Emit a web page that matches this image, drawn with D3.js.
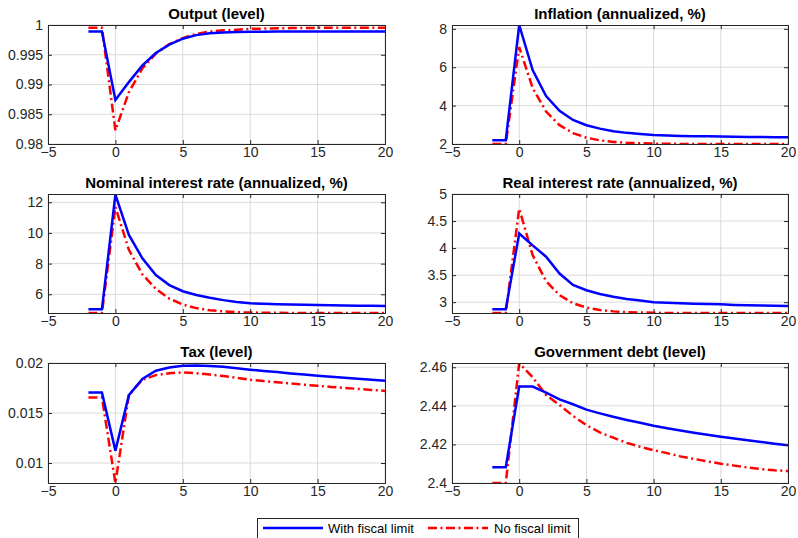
<!DOCTYPE html>
<html>
<head>
<meta charset="utf-8">
<script src="https://cdn.jsdelivr.net/npm/d3@7"></script>
<style>
  body { margin: 0; background: #fff; }
  svg { font-family: "Liberation Sans", Arial, sans-serif; }
</style>
</head>
<body>
<svg id="chart" width="798" height="538"></svg>
<script>
// Time axis (quarters relative to the shock)
const periods = [-2,-1,0,1,2,3,4,5,6,7,8,9,10,11,12,13,14,15,16,17,18,19,20];
const xTicks = [-5,0,5,10,15,20];

// Series: with fiscal limit (blue) / no fiscal limit (red)
const outputFiscal = [0.9989,0.9989,0.9874,0.9904,0.9932,0.9953,0.9967,0.9977,0.9983,0.9986,0.99875,0.99882,0.99886,0.99888,0.99889,0.9989,0.9989,0.9989,0.9989,0.9989,0.9989,0.9989,0.9989];
const outputNoLimit = [0.99955,0.99955,0.9823,0.9887,0.9927,0.9952,0.9968,0.9978,0.9985,0.9989,0.9991,0.9992,0.99935,0.9994,0.99945,0.99948,0.9995,0.99952,0.99953,0.99954,0.99955,0.99955,0.99955];

const inflFiscal = [2.2,2.2,8.2,5.85,4.5,3.73,3.25,2.98,2.8,2.67,2.58,2.52,2.47,2.44,2.42,2.41,2.4,2.39,2.38,2.37,2.36,2.355,2.35];
const inflNoLimit = [2.0,2.0,7.05,4.92,3.69,2.98,2.57,2.33,2.19,2.11,2.065,2.04,2.02,2.01,2.005,2.0,2.0,2.0,2.0,2.0,2.0,2.0,2.0];

const nomFiscal = [5.02,5.02,12.5,9.87,8.35,7.26,6.6,6.2,5.95,5.77,5.62,5.5,5.41,5.38,5.35,5.33,5.31,5.3,5.29,5.27,5.26,5.25,5.24];
const nomNoLimit = [4.78,4.78,11.7,8.9,7.3,6.35,5.72,5.33,5.1,4.96,4.88,4.83,4.81,4.8,4.79,4.785,4.78,4.78,4.78,4.78,4.78,4.78,4.78];

const realFiscal = [2.87,2.87,4.27,4.05,3.84,3.53,3.32,3.22,3.15,3.1,3.06,3.03,3.0,2.99,2.98,2.97,2.965,2.96,2.95,2.945,2.94,2.935,2.93];
const realNoLimit = [2.8,2.8,4.73,3.87,3.39,3.13,2.98,2.9,2.855,2.83,2.815,2.81,2.805,2.8,2.8,2.8,2.8,2.8,2.8,2.8,2.8,2.8,2.8];

const taxFiscal = [0.01705,0.01705,0.01124,0.01678,0.0184,0.01923,0.01955,0.01973,0.01975,0.0197,0.01962,0.01948,0.01933,0.01921,0.01909,0.01896,0.01884,0.01872,0.01862,0.01852,0.01842,0.01832,0.01822];
const taxNoLimit = [0.01654,0.01654,0.008,0.0168,0.01832,0.01879,0.01898,0.01906,0.01898,0.01884,0.0187,0.01851,0.01832,0.01819,0.01807,0.01795,0.01783,0.01772,0.01761,0.01751,0.01741,0.01731,0.01721];

const debtFiscal = [2.40815,2.40815,2.45,2.45,2.4468,2.4433,2.4408,2.438,2.4361,2.4343,2.4327,2.4312,2.4297,2.4284,2.4272,2.4261,2.425,2.424,2.4231,2.4222,2.4213,2.4204,2.4196];
const debtNoLimit = [2.4,2.4,2.4621,2.4548,2.4456,2.4404,2.4348,2.43,2.4262,2.4235,2.4208,2.4188,2.417,2.4155,2.4138,2.4125,2.4112,2.41,2.409,2.408,2.4072,2.4066,2.4062];

// Panel titles, axis limits and y tick labels
const titles = ["Output (level)", "Inflation (annualized, %)", "Nominal interest rate (annualized, %)",
  "Real interest rate (annualized, %)", "Tax (level)", "Government debt (level)"];
const yLimits = [[0.98,1.0],[2.0,8.2],[4.78,12.54],[2.8,5.0],[0.008,0.02],[2.4,2.4622]];
const yTicks = [
  [0.98,0.985,0.99,0.995,1],
  [2,4,6,8],
  [6,8,10,12],
  [3,3.5,4,4.5,5],
  [0.01,0.015,0.02],
  [2.4,2.42,2.44,2.46]
];
const yTickLabels = [
  ["0.98","0.985","0.99","0.995","1"],
  ["2","4","6","8"],
  ["6","8","10","12"],
  ["3","3.5","4","4.5","5"],
  ["0.01","0.015","0.02"],
  ["2.4","2.42","2.44","2.46"]
];
const fiscalSeries = [outputFiscal, inflFiscal, nomFiscal, realFiscal, taxFiscal, debtFiscal];
const noLimitSeries = [outputNoLimit, inflNoLimit, nomNoLimit, realNoLimit, taxNoLimit, debtNoLimit];
const legendLabels = ["With fiscal limit", "No fiscal limit"];

// Layout
const colX = [[48,385],[452,788]];
const rowY = [[25,144],[194,313],[363,483]];
const blue = "#0000ff", red = "#ff0000";
const dashDot = "9,3.5,2,3.5";
const axisColor = "#262626";
const gridColor = "#dadada";

const svg = d3.select("#chart");

titles.forEach((title, i) => {
  const col = i % 2, row = Math.floor(i / 2);
  const [x0, x1] = colX[col];
  const [y0, y1] = rowY[row];

  const x = d3.scaleLinear().domain([-5, 20]).range([x0, x1]);
  const y = d3.scaleLinear().domain(yLimits[i]).range([y1, y0]);

  const g = svg.append("g");

  // Grid
  g.selectAll(".vgrid").data(xTicks).join("line")
    .attr("x1", d => x(d)).attr("x2", d => x(d))
    .attr("y1", y0).attr("y2", y1)
    .attr("stroke", gridColor).attr("stroke-width", 1);
  g.selectAll(".hgrid").data(yTicks[i]).join("line")
    .attr("x1", x0).attr("x2", x1)
    .attr("y1", d => y(d)).attr("y2", d => y(d))
    .attr("stroke", gridColor).attr("stroke-width", 1);

  // Lines, clipped to the axes box
  const clipId = "clip" + i;
  svg.append("clipPath").attr("id", clipId)
    .append("rect").attr("x", x0).attr("y", y0).attr("width", x1 - x0).attr("height", y1 - y0);

  const line = d3.line().x((d, k) => x(periods[k])).y(d => y(d));

  g.append("path").datum(noLimitSeries[i])
    .attr("clip-path", `url(#${clipId})`)
    .attr("fill", "none").attr("stroke", red).attr("stroke-width", 2.5)
    .attr("stroke-dasharray", dashDot)
    .attr("d", line);
  g.append("path").datum(fiscalSeries[i])
    .attr("clip-path", `url(#${clipId})`)
    .attr("fill", "none").attr("stroke", blue).attr("stroke-width", 2.5)
    .attr("d", line);

  // Axes (ticks inward, box on)
  const xAxis = d3.axisBottom(x).tickValues(xTicks).tickSize(-4).tickPadding(3).tickFormat(d3.format("d"));
  const xAxisTop = d3.axisTop(x).tickValues(xTicks).tickSize(-4).tickFormat("");
  const yAxis = d3.axisLeft(y).tickValues(yTicks[i]).tickSize(-4).tickPadding(5)
    .tickFormat((d, k) => yTickLabels[i][k]);
  const yAxisRight = d3.axisRight(y).tickValues(yTicks[i]).tickSize(-4).tickFormat("");

  [
    g.append("g").attr("transform", `translate(0,${y1})`).call(xAxis),
    g.append("g").attr("transform", `translate(0,${y0})`).call(xAxisTop),
    g.append("g").attr("transform", `translate(${x0},0)`).call(yAxis),
    g.append("g").attr("transform", `translate(${x1},0)`).call(yAxisRight)
  ].forEach(a => {
    a.select(".domain").attr("stroke", axisColor).attr("stroke-width", 1);
    a.selectAll(".tick line").attr("stroke", axisColor);
    a.selectAll(".tick text").attr("fill", axisColor)
      .attr("font-size", 14).attr("font-family", "Liberation Sans, Arial, sans-serif");
  });

  // Title
  g.append("text")
    .attr("x", (x0 + x1) / 2).attr("y", y0 - 6)
    .attr("text-anchor", "middle")
    .attr("font-size", 15).attr("font-weight", "bold").attr("fill", "#000")
    .text(title);
});

// Legend
const legend = svg.append("g");
legend.append("rect")
  .attr("x", 257.5).attr("y", 518.5).attr("width", 321).attr("height", 30)
  .attr("fill", "#fff").attr("stroke", axisColor).attr("stroke-width", 1);
const legendItems = [
  { label: legendLabels[0], color: blue, dash: null, lx: 263, tx: 328 },
  { label: legendLabels[1], color: red, dash: dashDot, lx: 428, tx: 494 }
];
legendItems.forEach(item => {
  legend.append("line")
    .attr("x1", item.lx).attr("x2", item.lx + 60)
    .attr("y1", 528).attr("y2", 528)
    .attr("stroke", item.color).attr("stroke-width", 2.5)
    .attr("stroke-dasharray", item.dash);
  legend.append("text")
    .attr("x", item.tx).attr("y", 533)
    .attr("font-size", 13).attr("fill", "#000")
    .text(item.label);
});
</script>
</body>
</html>
